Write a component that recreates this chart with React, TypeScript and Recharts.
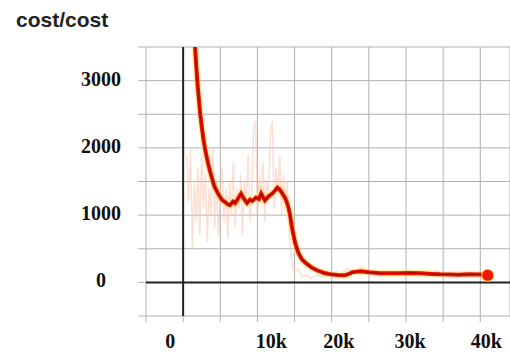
import { CartesianGrid, Line, LineChart, ReferenceLine, XAxis, YAxis } from "recharts";

// raw (noisy) cost
const RAW_STEPS = [
  500, 750, 1000, 1250, 1500, 1750, 2000, 2250, 2500, 2750, 3000, 3250, 3500, 3750, 4000, 4250, 4500, 4750,
  5000, 5250, 5500, 5750, 6000, 6250, 6500, 6750, 7000, 7250, 7500, 7750, 8000, 8250, 8500, 8750, 9000, 9250,
  9500, 9750, 10000, 10250, 10500, 10750, 11000, 11250, 11500, 11750, 12000, 12250, 12500, 12750, 13000, 13250,
  13500, 13750, 14000, 14250, 14500, 14750, 15000, 15500, 16000, 16500, 17000, 18000, 19000, 20000, 21000,
  22000, 23000, 24000, 25000, 26000, 27000, 28000, 29000, 30000, 31000, 32000, 33000, 34000, 35000, 36000,
  37000, 38000, 39000, 40000, 41000,
];
const RAW_COST = [
  1900, 1200, 2000, 480, 1500, 900, 1700, 700, 1900, 1100, 1600, 600, 1400, 1000, 2000, 800, 1500, 700,
  1300, 1700, 900, 1400, 650, 1500, 1000, 1800, 800, 1400, 1100, 1600, 700, 1500, 1200, 1900, 900, 1400,
  2300, 2400, 1000, 1600, 1200, 1800, 900, 1500, 1300, 2200, 2400, 1100, 1700, 1300, 1900, 1000,
  1600, 1200, 1500, 800, 400, 250, 150, 200, 80, 120, 60, 100, 80, 120, 100,
  200, 150, 220, 140, 170, 120, 160, 130, 180, 120, 150, 110, 170, 120, 140,
  110, 150, 120, 140, 110,
];

// smoothed cost (bold red curve)
const SMOOTH_STEPS = [
  1200, 1600, 1900, 2300, 2700, 3000, 3400, 3800, 4200, 4700, 5200, 5700, 6000, 6300, 6700, 7000, 7300, 7800,
  8200, 8600, 9000, 9300, 9800, 10200, 10500, 11000, 11500, 12000, 12400, 12700, 13000, 13300, 13700, 14000,
  14200, 14400, 14600, 14800, 15100, 15500, 16000, 16700, 17300, 18000, 19000, 19800, 20800, 21800, 22300,
  22800, 23400, 23900, 25000, 26500, 28800, 30500, 32000, 33500, 34600, 36000, 37000, 38500, 40000, 41000,
];
const SMOOTH_COST = [
  5000, 3500, 3000, 2500, 2150, 1950, 1750, 1580, 1430, 1320, 1230, 1190, 1160, 1150, 1200, 1180, 1230, 1320,
  1240, 1180, 1230, 1210, 1260, 1240, 1320, 1220, 1280, 1320, 1370, 1410, 1380, 1330, 1260, 1180,
  1100, 1000, 850, 730, 580, 440, 340, 270, 220, 180, 140, 120, 110, 105, 125,
  150, 160, 165, 150, 135, 135, 140, 135, 125, 120, 118, 115, 120, 118, 105,
];

const X_TICKS = [-5000, 0, 5000, 10000, 15000, 20000, 25000, 30000, 35000, 40000];
const Y_TICKS = [-500, 0, 500, 1000, 1500, 2000, 2500, 3000, 3500];
const X_LABELS: Record<number, string> = { 0: "0", 10000: "10k", 20000: "20k", 30000: "30k", 40000: "40k" };

const rawData = RAW_STEPS.map((x, i) => ({ x, v: RAW_COST[i] }));
const smoothData = SMOOTH_STEPS.map((x, i) => ({ x, v: SMOOTH_COST[i] }));

const TICK_FONT = '"Liberation Serif", "Times New Roman", serif';
// the labels in the picture are not quite centred under their grid lines
const X_NUDGE: Record<number, number> = { 0: -13, 10000: 14, 20000: 7, 30000: 4, 40000: 6 };

function YTick({ y, payload }: any) {
  const v = payload.value;
  if (v < 0 || v % 1000 !== 0) return <g />;
  return (
    <text x={101} y={y + 5} textAnchor="middle" fontFamily={TICK_FONT} fontWeight="bold" fontSize={20} fill="#111">
      {v}
    </text>
  );
}

function XTick({ x, y, payload }: any) {
  const label = X_LABELS[payload.value];
  if (!label) return <g />;
  return (
    <text
      x={x + (X_NUDGE[payload.value] ?? 0)}
      y={y + 24}
      textAnchor="middle"
      fontFamily={TICK_FONT}
      fontWeight="bold"
      fontSize={20}
      fill="#111"
    >
      {label}
    </text>
  );
}

export default function App() {
  const last = smoothData.length - 1;
  return (
    <div style={{ position: "absolute", left: 0, top: 0, width: 510, height: 353, background: "#fff" }}>
      <div
        style={{
          position: "absolute",
          left: 16,
          top: 9,
          fontFamily: '"Liberation Sans", Arial, sans-serif',
          fontWeight: "bold",
          fontSize: 21,
          lineHeight: "21px",
          color: "#222",
        }}
      >
        cost/cost
      </div>
      <LineChart width={510} height={353} margin={{ top: 47, right: 0, bottom: 7, left: 86 }}>
        <CartesianGrid stroke="#b0b0b0" strokeWidth={1} />
        <XAxis
          dataKey="x"
          type="number"
          domain={[-5000, 44000]}
          ticks={X_TICKS}
          height={30}
          tickSize={6}
          axisLine={false}
          tickLine={{ stroke: "#b0b0b0" }}
          tick={<XTick />}
          interval={0}
        />
        <YAxis
          type="number"
          domain={[-500, 3500]}
          ticks={Y_TICKS}
          allowDataOverflow
          width={60}
          tickSize={8}
          axisLine={false}
          tickLine={{ stroke: "#b0b0b0" }}
          tick={<YTick />}
          interval={0}
        />
        <ReferenceLine y={0} stroke="#222" strokeWidth={2} />
        <ReferenceLine x={0} stroke="#222" strokeWidth={2} />
        <Line
          data={rawData}
          dataKey="v"
          type="linear"
          stroke="#f9c2ad"
          strokeOpacity={0.5}
          strokeWidth={1.5}
          dot={false}
          isAnimationActive={false}
        />
        <Line
          data={smoothData}
          dataKey="v"
          type="linear"
          stroke="#ffd84a"
          strokeOpacity={0.45}
          strokeWidth={7}
          dot={false}
          isAnimationActive={false}
        />
        <Line
          data={smoothData}
          dataKey="v"
          type="linear"
          stroke="#f01400"
          strokeWidth={4}
          dot={(p: any) =>
            p.index === last ? (
              <circle key={p.key} cx={p.cx} cy={p.cy} r={6} fill="#f51500" stroke="#ffcf40" strokeWidth={1} />
            ) : (
              <g key={p.key} />
            )
          }
          isAnimationActive={false}
        />
        <Line
          data={smoothData}
          dataKey="v"
          type="linear"
          stroke="#5a0000"
          strokeOpacity={0.55}
          strokeWidth={1.3}
          dot={false}
          isAnimationActive={false}
        />
      </LineChart>
    </div>
  );
}
